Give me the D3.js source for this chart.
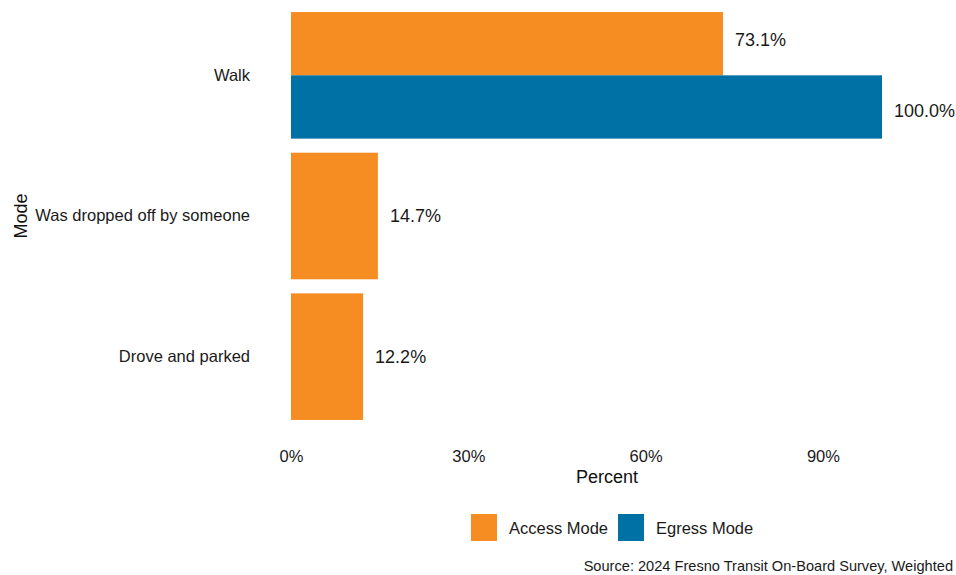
<!DOCTYPE html>
<html>
<head>
<meta charset="utf-8">
<script src="https://cdn.jsdelivr.net/npm/d3@7"></script>
<style>
  html, body { margin: 0; padding: 0; background: #fff; }
  text { font-family: "Liberation Sans", Arial, sans-serif; }
</style>
</head>
<body>
<svg id="chart" width="956" height="575"></svg>
<script>
// Travel mode categories (top to bottom)
const categories = ["Walk", "Was dropped off by someone", "Drove and parked"];
// Percent of riders per mode, by trip end
const accessValues = [73.1, 14.7, 12.2];
const egressValues = [100.0, null, null];
const seriesNames = ["Access Mode", "Egress Mode"];
const seriesColors = ["#F68D22", "#0071A4"];
const tickValues = [0, 30, 60, 90];

const svg = d3.select("#chart");
const x = d3.scaleLinear().domain([0, 100]).range([291, 882]);
const y = d3.scaleBand().domain(categories).range([5, 427]).paddingInner(0.1).paddingOuter(0.05);

// Build bar records; a category with one series fills the whole band.
// Value labels are dodged across the full step, bars across the band.
const bars = [];
categories.forEach((c, i) => {
  const vals = [accessValues[i], egressValues[i]];
  const present = vals.map((v, k) => ({ v, k })).filter(d => d.v != null);
  const sub = d3.scaleBand().domain(present.map(d => d.k)).range([0, y.bandwidth()]);
  const center = y(c) + y.bandwidth() / 2;
  const labStep = y.step() / present.length;
  present.forEach((d, j) => bars.push({
    cat: c, series: d.k, value: d.v,
    y0: y(c) + sub(d.k), h: sub.bandwidth(),
    ly: center + (j - (present.length - 1) / 2) * labStep
  }));
});

svg.append("g").selectAll("rect").data(bars).join("rect")
  .attr("x", x(0))
  .attr("y", d => d.y0)
  .attr("width", d => x(d.value) - x(0))
  .attr("height", d => d.h)
  .attr("fill", d => seriesColors[d.series]);

svg.append("g").selectAll("text").data(bars).join("text")
  .attr("x", d => x(d.value) + 12)
  .attr("y", d => d.ly)
  .attr("dy", "0.35em")
  .attr("font-size", 18)
  .attr("fill", "#1a1a1a")
  .text(d => d.value.toFixed(1) + "%");

// Category axis labels
const yAxis = d3.axisLeft(y).tickSize(0).tickPadding(0);
const gy = svg.append("g").attr("transform", "translate(250,0)").call(yAxis);
gy.select(".domain").remove();
gy.selectAll("text").attr("font-size", 16.5).attr("fill", "#1a1a1a").attr("font-family", "Liberation Sans, Arial, sans-serif");

// Percent axis labels
const xAxis = d3.axisBottom(x).tickValues(tickValues).tickSize(0).tickPadding(0).tickFormat(d => d + "%");
const gx = svg.append("g").attr("transform", "translate(0,450)").call(xAxis);
gx.select(".domain").remove();
gx.selectAll("text").attr("font-size", 16.5).attr("fill", "#1a1a1a").attr("font-family", "Liberation Sans, Arial, sans-serif");

// Axis titles
svg.append("text").attr("x", 607).attr("y", 483).attr("text-anchor", "middle")
  .attr("font-size", 18).attr("fill", "#111").text("Percent");
svg.append("text").attr("transform", "translate(27,216) rotate(-90)").attr("text-anchor", "middle")
  .attr("font-size", 18).attr("fill", "#111").text("Mode");

// Legend
const legendX = [471, 618];
const lg = svg.append("g").selectAll("g").data(seriesNames).join("g")
  .attr("transform", (d, i) => `translate(${legendX[i]},514)`);
lg.append("rect").attr("width", 26).attr("height", 27).attr("fill", (d, i) => seriesColors[i]);
lg.append("text").attr("x", 38).attr("y", 14).attr("dy", "0.35em")
  .attr("font-size", 16.5).attr("fill", "#1a1a1a").text(d => d);

// Source note
svg.append("text").attr("x", 953).attr("y", 571).attr("text-anchor", "end")
  .attr("font-size", 14.6).attr("fill", "#1a1a1a").text("Source: 2024 Fresno Transit On-Board Survey, Weighted");
</script>
</body>
</html>
